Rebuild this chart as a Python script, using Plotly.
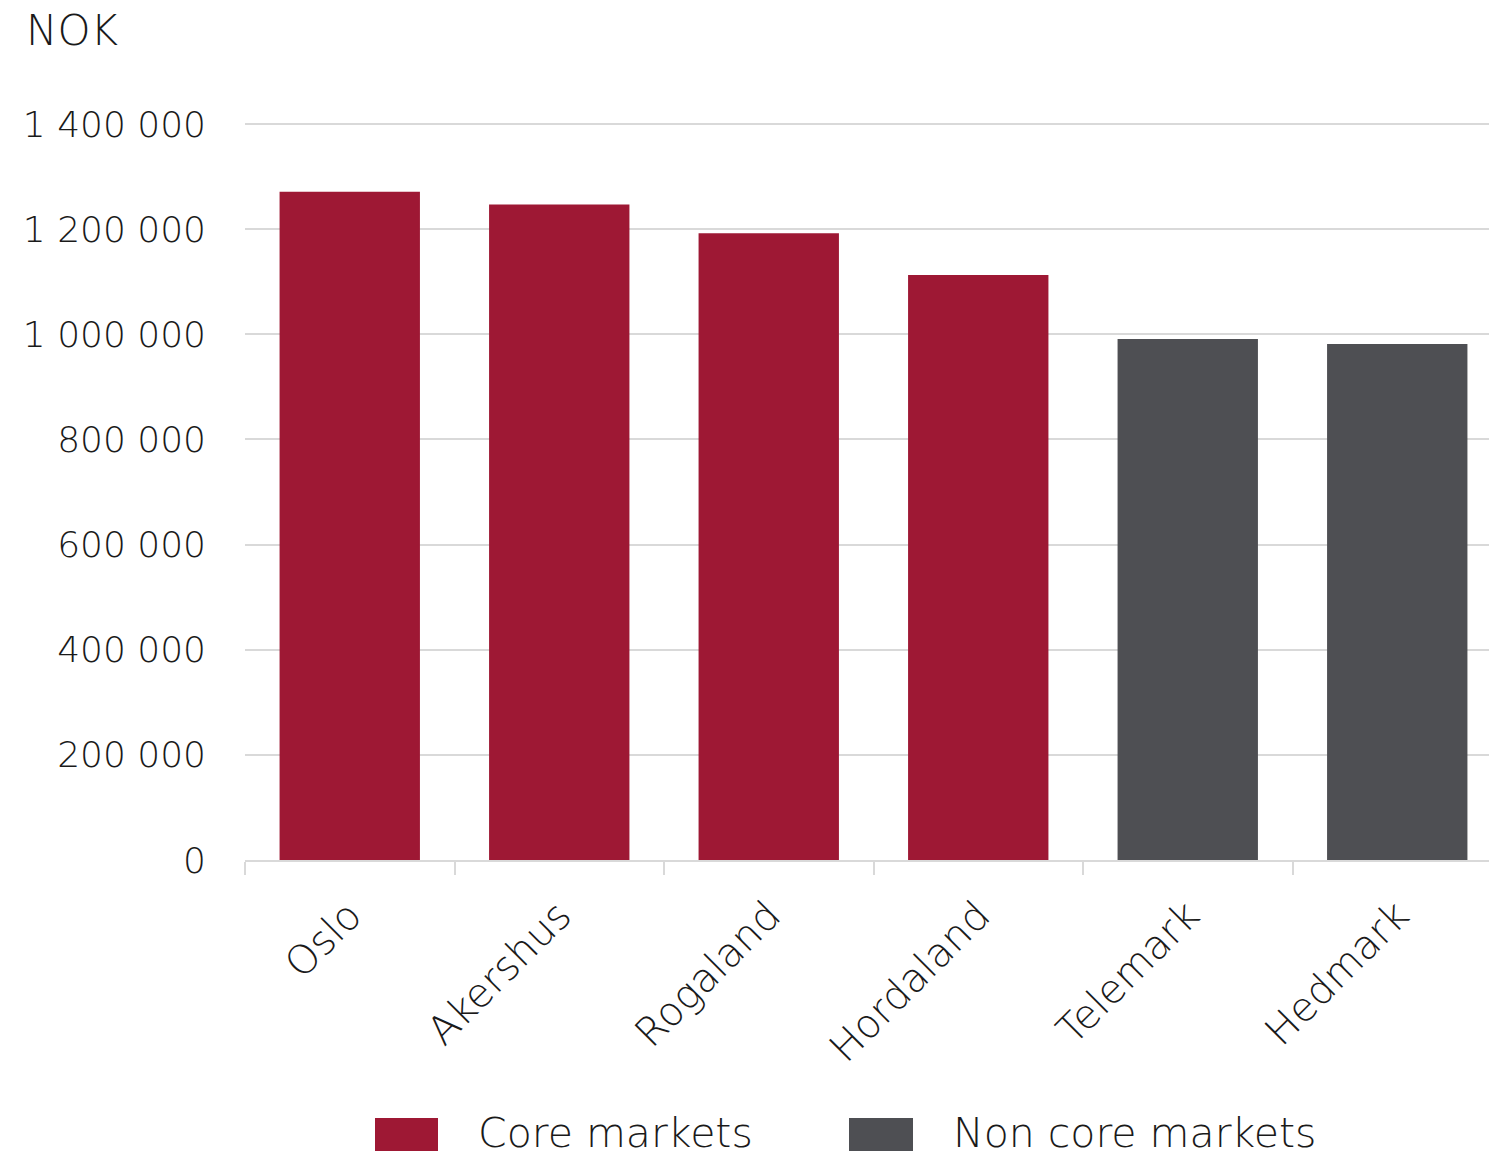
import plotly.graph_objects as go

categories = ["Oslo", "Akershus", "Rogaland", "Hordaland", "Telemark", "Hedmark"]
core_values = [1271000, 1247000, 1192000, 1113000, None, None]
noncore_values = [None, None, None, None, 991000, 981500]
y_tickvals = [0, 200000, 400000, 600000, 800000, 1000000, 1200000, 1400000]
y_ticktext = ["0", "200 000", "400 000", "600 000", "800 000", "1 000 000", "1 200 000", "1 400 000"]
legend_names = ["Core markets", "Non core markets"]
unit_label = "NOK"

RED = "#9E1834"
GREY = "#4E4F53"
GRID = "#d9d9d9"
FONT = "DejaVu Sans"
WEIGHT = 300

W, H = 1489, 1157
L, R, T, B = 245, 0, 122, 297
pw, ph = W - L - R, H - T - B
Y_TOP = 1400000 * (H - B - T) / (H - B - 124)

def px_x(px):
    return (px - L) / pw

def px_y(py):
    return (H - B - py) / ph

fig = go.Figure()
fig.add_trace(go.Bar(x=categories, y=core_values, name=legend_names[0],
                     marker=dict(color=RED, line=dict(width=0)), width=0.67, showlegend=False))
fig.add_trace(go.Bar(x=categories, y=noncore_values, name=legend_names[1],
                     marker=dict(color=GREY, line=dict(width=0)), width=0.67, showlegend=False))

fig.update_layout(
    width=W, height=H,
    margin=dict(l=L, r=R, t=T, b=B, pad=0),
    paper_bgcolor="white", plot_bgcolor="white",
    barmode="overlay",
    font=dict(family=FONT, color="#1a1a1a", size=40, weight=WEIGHT),
    xaxis=dict(
        type="category", range=[-0.5, -0.5 + pw / 209.5],
        showline=True, linecolor=GRID, linewidth=2,
        ticks="outside", ticklen=13, tickcolor=GRID, tickwidth=1.5,
        tickson="boundaries", showgrid=False,
        tickangle=-45, tickfont=dict(size=40, family=FONT, weight=WEIGHT),
        ticklabelstandoff=14,
    ),
    yaxis=dict(
        range=[0, Y_TOP], tickvals=y_tickvals, ticktext=y_ticktext,
        showgrid=True, gridcolor=GRID, gridwidth=1.5,
        zeroline=False, showline=False, ticks="",
        tickfont=dict(size=36, family=FONT, weight=WEIGHT),
        ticklabelstandoff=38,
    ),
)

# NOK unit label
fig.add_annotation(text=unit_label, xref="paper", yref="paper",
                   x=px_x(24), y=px_y(31), xanchor="left", yanchor="middle",
                   showarrow=False, font=dict(size=42, family=FONT, color="#1a1a1a", weight=WEIGHT))

# manual legend
legend_items = [(legend_names[0], RED, 375, 438, 476), (legend_names[1], GREY, 849, 913, 951)]
for name, col, x0, x1, tx in legend_items:
    fig.add_shape(type="rect", xref="paper", yref="paper",
                  x0=px_x(x0), x1=px_x(x1), y0=px_y(1151), y1=px_y(1118),
                  fillcolor=col, line=dict(width=0))
    fig.add_annotation(text=name, xref="paper", yref="paper",
                       x=px_x(tx), y=px_y(1133), xanchor="left", yanchor="middle",
                       height=44, valign="middle",
                       showarrow=False, font=dict(size=41, family=FONT, color="#1a1a1a", weight=WEIGHT))

fig.write_html("out.html")
